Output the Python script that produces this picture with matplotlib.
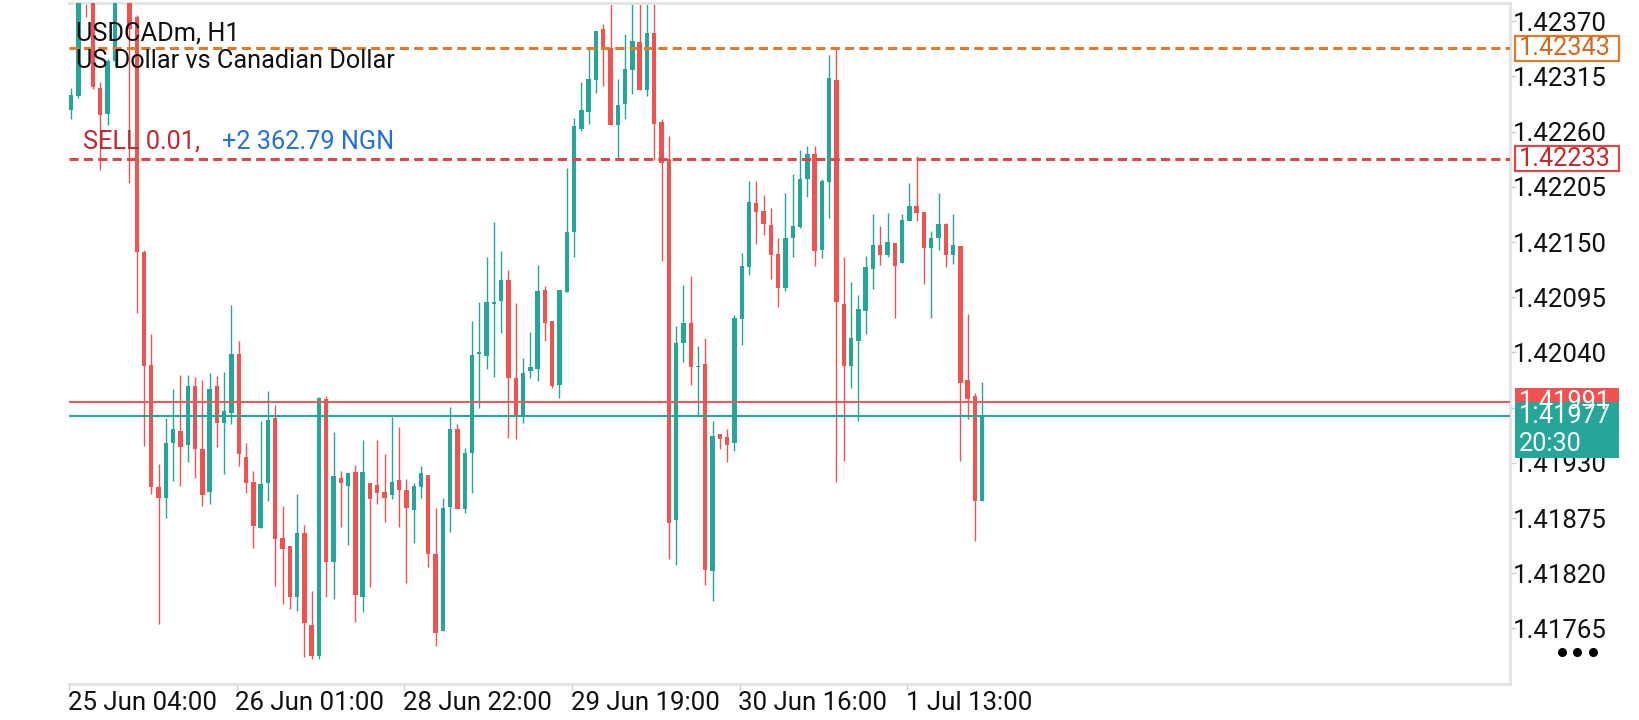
import matplotlib.pyplot as plt
from matplotlib.patches import Rectangle
from matplotlib.lines import Line2D
from matplotlib import transforms
import numpy as np

plt.rcParams['font.family'] = ['Roboto', 'DejaVu Sans']

# USDCADm H1 candles (oldest first)
opens = [1.42282, 1.42295, 1.42420, 1.42410, 1.42303, 1.42278, 1.42330, 1.42400, 1.42420, 1.42374,
         1.42140, 1.42027, 1.41906, 1.41895, 1.41950, 1.41962, 1.41948, 1.42007, 1.41944, 1.41901,
         1.42007, 1.41970, 1.41980, 1.42038, 1.41936, 1.41911, 1.41865, 1.41910, 1.41975, 1.41855,
         1.41847, 1.41796, 1.41860, 1.41768, 1.41738, 1.41994, 1.41831, 1.41915, 1.41907, 1.41921,
         1.41796, 1.41910, 1.41908, 1.41901, 1.41898, 1.41913, 1.41903, 1.41883, 1.41906, 1.41918,
         1.41839, 1.41762, 1.41886, 1.41964, 1.41884, 1.41940, 1.42038, 1.42036, 1.42088, 1.42091,
         1.42112, 1.42015, 1.41978, 1.42022, 1.42023, 1.42102, 1.42071, 1.42008, 1.42100, 1.42160,
         1.42263, 1.42280, 1.42311, 1.42362, 1.42343, 1.42267, 1.42287, 1.42321, 1.42349, 1.42301,
         1.42358, 1.42270, 1.42233, 1.41873, 1.42049, 1.42069, 1.42025, 1.42028, 1.41822, 1.41959,
         1.41956, 1.41950, 1.42073, 1.42125, 1.42189, 1.42181, 1.42167, 1.42138, 1.42104, 1.42154,
         1.42165, 1.42213, 1.42238, 1.42142, 1.42210, 1.42311, 1.42088, 1.42026, 1.42051, 1.42081,
         1.42123, 1.42147, 1.42137, 1.42149, 1.42129, 1.42171, 1.42186, 1.42180, 1.42144, 1.42154,
         1.42168, 1.42137, 1.42146, 1.42013, 1.41997, 1.41892]
highs = [1.42303, 1.42411, 1.42425, 1.42415, 1.42309, 1.42332, 1.42410, 1.42445, 1.42425, 1.42376,
         1.42142, 1.42058, 1.41929, 1.41975, 1.42004, 1.42018, 1.42018, 1.42016, 1.42013, 1.42020,
         1.42017, 1.42021, 1.42087, 1.42051, 1.41950, 1.41922, 1.41972, 1.42002, 1.41988, 1.41887,
         1.41847, 1.41899, 1.41868, 1.41802, 1.41996, 1.41997, 1.41961, 1.41922, 1.41920, 1.41928,
         1.41953, 1.41910, 1.41953, 1.41939, 1.41976, 1.41966, 1.41914, 1.41910, 1.41927, 1.41918,
         1.41885, 1.41895, 1.41986, 1.41969, 1.41945, 1.42071, 1.42090, 1.42135, 1.42170, 1.42141,
         1.42122, 1.42089, 1.42034, 1.42060, 1.42127, 1.42106, 1.42071, 1.42102, 1.42224, 1.42274,
         1.42309, 1.42343, 1.42360, 1.42367, 1.42390, 1.42312, 1.42357, 1.42392, 1.42395, 1.42395,
         1.42392, 1.42273, 1.42256, 1.42066, 1.42107, 1.42116, 1.42046, 1.42054, 1.41972, 1.41959,
         1.41964, 1.42077, 1.42139, 1.42211, 1.42211, 1.42197, 1.42184, 1.42154, 1.42199, 1.42218,
         1.42242, 1.42246, 1.42246, 1.42213, 1.42336, 1.42342, 1.42135, 1.42110, 1.42097, 1.42136,
         1.42178, 1.42166, 1.42179, 1.42149, 1.42178, 1.42209, 1.42236, 1.42180, 1.42161, 1.42199,
         1.42169, 1.42178, 1.42146, 1.42078, 1.42000, 1.42011]
lows = [1.42273, 1.42293, 1.42374, 1.42302, 1.42222, 1.42267, 1.42325, 1.42392, 1.42209, 1.42079,
        1.41947, 1.41899, 1.41769, 1.41875, 1.41912, 1.41907, 1.41931, 1.41915, 1.41887, 1.41889,
        1.41946, 1.41919, 1.41969, 1.41927, 1.41900, 1.41845, 1.41865, 1.41892, 1.41807, 1.41789,
        1.41784, 1.41782, 1.41737, 1.41735, 1.41735, 1.41796, 1.41794, 1.41866, 1.41848, 1.41771,
        1.41781, 1.41806, 1.41889, 1.41871, 1.41894, 1.41866, 1.41810, 1.41850, 1.41895, 1.41826,
        1.41748, 1.41762, 1.41861, 1.41884, 1.41880, 1.41900, 1.41985, 1.42023, 1.42016, 1.42059,
        1.41955, 1.41954, 1.41970, 1.42015, 1.42012, 1.42051, 1.42005, 1.41995, 1.42100, 1.42135,
        1.42261, 1.42268, 1.42298, 1.42305, 1.42267, 1.42233, 1.42273, 1.42297, 1.42301, 1.42295,
        1.42232, 1.42131, 1.41834, 1.41828, 1.42030, 1.42008, 1.41977, 1.41808, 1.41792, 1.41944,
        1.41931, 1.41942, 1.42047, 1.42117, 1.42148, 1.42157, 1.42113, 1.42085, 1.42101, 1.42135,
        1.42164, 1.42195, 1.42126, 1.42134, 1.42174, 1.41911, 1.41932, 1.42005, 1.41972, 1.42058,
        1.42103, 1.42127, 1.42135, 1.42074, 1.42129, 1.42171, 1.42171, 1.42108, 1.42074, 1.42142,
        1.42125, 1.42128, 1.41932, 1.41974, 1.41852, 1.41892]
closes = [1.42296, 1.42406, 1.42395, 1.42304, 1.42277, 1.42330, 1.42400, 1.42430, 1.42362, 1.42140,
          1.42026, 1.41906, 1.41895, 1.41950, 1.41964, 1.41946, 1.42007, 1.41944, 1.41898, 1.42004,
          1.41970, 1.41982, 1.42038, 1.41939, 1.41910, 1.41867, 1.41909, 1.41973, 1.41854, 1.41844,
          1.41796, 1.41860, 1.41770, 1.41738, 1.41995, 1.41831, 1.41917, 1.41910, 1.41920, 1.41798,
          1.41921, 1.41894, 1.41900, 1.41895, 1.41911, 1.41903, 1.41885, 1.41907, 1.41920, 1.41839,
          1.41761, 1.41885, 1.41964, 1.41884, 1.41940, 1.42037, 1.42040, 1.42090, 1.42090, 1.42112,
          1.42015, 1.41978, 1.42020, 1.42025, 1.42101, 1.42069, 1.42007, 1.42102, 1.42160, 1.42266,
          1.42282, 1.42312, 1.42360, 1.42343, 1.42267, 1.42286, 1.42322, 1.42350, 1.42301, 1.42358,
          1.42268, 1.42229, 1.41870, 1.42049, 1.42069, 1.42025, 1.42026, 1.41823, 1.41957, 1.41954,
          1.41948, 1.42074, 1.42126, 1.42190, 1.42180, 1.42168, 1.42137, 1.42104, 1.42154, 1.42166,
          1.42213, 1.42238, 1.42141, 1.42211, 1.42313, 1.42090, 1.42026, 1.42054, 1.42083, 1.42125,
          1.42147, 1.42137, 1.42150, 1.42126, 1.42172, 1.42186, 1.42179, 1.42144, 1.42154, 1.42168,
          1.42137, 1.42147, 1.42010, 1.41994, 1.41892, 1.41977]

time_labels = ['25 Jun 04:00', '26 Jun 01:00', '28 Jun 22:00', '29 Jun 19:00', '30 Jun 16:00', '1 Jul 13:00']
time_label_bars = [0, 23, 46, 69, 92, 115]
price_ticks = [1.42370, 1.42315, 1.42260, 1.42205, 1.42150, 1.42095,
               1.42040, 1.41985, 1.41930, 1.41875, 1.41820, 1.41765]

symbol = 'USDCADm, H1'
description = 'US Dollar vs Canadian Dollar'
order_side = 'SELL 0.01,'
order_profit = '+2 362.79 NGN'
order_price = 1.42233
alert_price = 1.42343
ask_price = 1.41991
bid_price = 1.41977
countdown = '20:30'

UP = '#26A69A'
DOWN = '#EF5350'
GRID = '#E4E4E4'
FS = 18.2        # header / box text
TICK_FS = 18.6   # axis labels
W, H = 1640, 720

fig = plt.figure(figsize=(W / 100, H / 100), dpi=100)
ax = fig.add_axes([69 / W, 36 / H, (1510 - 69) / W, (717 - 36) / H])

o = np.array(opens)
c = np.array(closes)
x = np.arange(len(o))
up = c >= o
cols = np.where(up, UP, DOWN)

ax.vlines(x, lows, highs, colors=cols, lw=1.0, zorder=2)
body = np.maximum(np.abs(c - o), 0.000015)
ax.bar(x, body, bottom=np.minimum(o, c), width=0.6, color=cols, linewidth=0, zorder=3)

ax.set_xlim(-0.29, 197.4)
ax.set_ylim(1.417097, 1.423881)

# level lines
ax.axhline(alert_price, color='#E07B2A', lw=2.2, ls=(0, (3, 1.7)), zorder=4)
ax.axhline(order_price, color='#D9494A', lw=2.2, ls=(0, (3, 1.7)), zorder=4)
ax.axhline(ask_price, color='#E0605E', lw=1.5, zorder=4)
ax.axhline(bid_price, color=UP, lw=1.5, zorder=4)

# axes look
ax.spines['left'].set_visible(False)
for side in ['right', 'bottom', 'top']:
    ax.spines[side].set_color(GRID)
    ax.spines[side].set_linewidth(2.2)

ax.yaxis.tick_right()
ax.set_yticks(price_ticks)
ax.set_yticklabels([f'{p:.5f}' for p in price_ticks])
ax.tick_params(axis='y', length=4.5, width=1, color='#CFCFCF', pad=-2.5, labelsize=TICK_FS, labelcolor='#111111')
ax.set_xticks(np.array(time_label_bars) - 0.27)
ax.set_xticklabels(time_labels, ha='left')
ax.tick_params(axis='x', length=4.5, width=1, color='#CFCFCF', pad=0.5, labelsize=TICK_FS, labelcolor='#111111')
for lbl in ax.get_xticklabels():
    lbl.set_transform(lbl.get_transform() + transforms.ScaledTranslation(-1 / 72, 0, fig.dpi_scale_trans))

# header
fig.text(76 / W, 1 - 33 / H, symbol, fontsize=FS, color='#111111', va='center', ha='left', zorder=10)
fig.text(76 / W, 1 - 61 / H, description, fontsize=FS, color='#111111', va='center', ha='left', zorder=10)

# order label above the order line
blend = transforms.blended_transform_factory(ax.transAxes, ax.transData)
ax.annotate(order_side, xy=(0, order_price), xycoords=blend, xytext=(10, 12.2), textcoords='offset points',
            fontsize=FS, color='#C0282D', va='center', ha='left', zorder=6)
ax.annotate(order_profit, xy=(0, order_price), xycoords=blend, xytext=(110, 12.2), textcoords='offset points',
            fontsize=FS, color='#2370D6', va='center', ha='left', zorder=6)


def price_y(p):
    return ax.transData.transform((0, p))[1]


def price_box(p, face, edge, tcolor, top_px, bot_px, lines):
    y = price_y(p)
    fig.add_artist(Rectangle((1515 / W, (y - bot_px) / H), 104 / W, (top_px + bot_px) / H,
                             transform=fig.transFigure, facecolor=face, edgecolor=edge,
                             linewidth=1.6 if edge != 'none' else 0, zorder=5))
    for k, t in enumerate(lines):
        fig.text(1519 / W, (y - 28 * k) / H, t, fontsize=FS, color=tcolor, va='center', ha='left', zorder=6)


price_box(alert_price, 'white', '#E07B2A', '#D2691E', 12.5, 12.5, [f'{alert_price:.5f}'])
price_box(order_price, 'white', '#D9494A', '#C62828', 12.5, 12.5, [f'{order_price:.5f}'])
price_box(ask_price, DOWN, 'none', 'white', 13.5, 13.5, [f'{ask_price:.5f}'])
price_box(bid_price, UP, 'none', 'white', 13.5, 42.5, [f'{bid_price:.5f}', countdown])

fig.add_artist(Line2D([1562 / W, 1577.5 / W, 1593 / W], [1 - 652 / H] * 3, transform=fig.transFigure,
                      marker='o', ms=5.5, ls='none', color='black'))

fig.savefig('out.png', dpi=100, facecolor='white')
